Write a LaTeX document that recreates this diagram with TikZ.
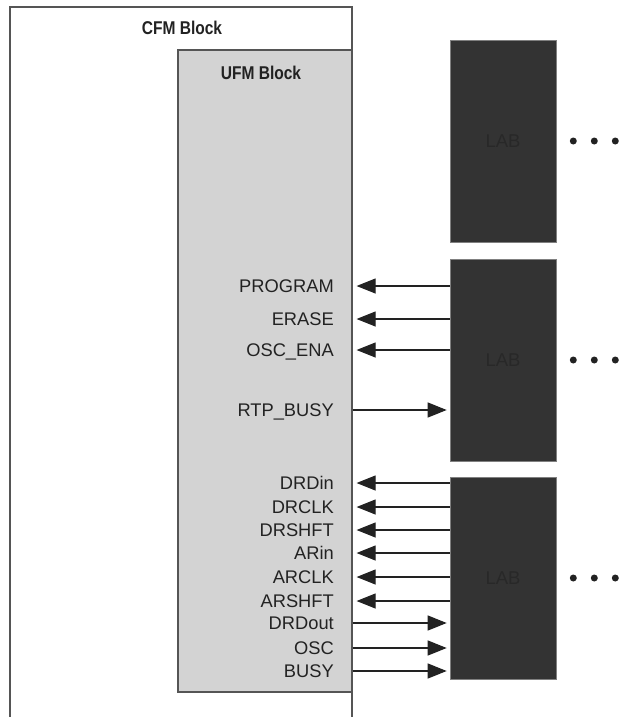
\documentclass[tikz,border=0pt]{standalone}
\usepackage{fontspec}
\setmainfont{Liberation Sans}
\newfontfamily\blockfont[FakeStretch=0.84]{Liberation Sans}
\usetikzlibrary{arrows.meta}
\definecolor{ufmgray}{RGB}{211,211,211}
\definecolor{labgray}{RGB}{51,51,51}
\definecolor{labtext}{RGB}{40,40,40}
\definecolor{lineblk}{RGB}{34,34,34}
\definecolor{framegray}{RGB}{85,85,85}

\begin{document}
\begin{tikzpicture}[x=1pt,y=-1pt,
  frame/.style={draw=framegray, line width=1.2pt},
  title/.style={font=\blockfont\bfseries\fontsize{18.5}{18.5}\selectfont, text=lineblk, inner sep=0pt},
  sig/.style={anchor=east, font=\fontsize{18.3}{18.3}\selectfont, text=lineblk, inner sep=0pt, text height=13pt, text depth=0pt},
  labbox/.style={draw=gray, line width=0.6pt, fill=labgray, minimum width=106pt, minimum height=202pt,
                 font=\fontsize{18.5}{18.5}\selectfont, text=labtext},
  sigin/.style={draw=lineblk, line width=1.1pt, {Triangle[length=19pt,width=15pt]}-, shorten <=4pt},
  sigout/.style={draw=lineblk, line width=1.1pt, -{Triangle[length=19pt,width=15pt]}, shorten >=3pt}]
\useasboundingbox (0,0) rectangle (621,717);
% CFM frame, open at the bottom
\draw[frame] (10,717) |- (352,7) -- (352,717);
\node[title] (cfm) at (182,28) {CFM Block};
% UFM block
\node[frame, fill=ufmgray, minimum width=174pt, minimum height=642pt, inner sep=0pt] (ufm) at (265,371) {};
\node[title] (ufmlbl) at (261,73) {UFM Block};
% LAB column
\foreach \y [count=\k] in {141,360,578} {
  \node[labbox] (lab\k) at (503,\y) {LAB};
  \fill[lineblk] (lab\k.east) ++(17,0) circle (3.5) ++(21,0) circle (3.5) ++(21,0) circle (3.5);
}
% middle LAB signals
\foreach \txt/\y [count=\i] in {PROGRAM/286, ERASE/319, OSC\_ENA/350} {
  \node[sig] (m\i) at (334,\y) {\txt};
  \draw[sigin] (ufm.east |- m\i) -- (lab2.west |- m\i);
}
\node[sig] (rtp) at (334,410) {RTP\_BUSY};
\draw[sigout] (ufm.east |- rtp) -- (lab2.west |- rtp);
% lower LAB signals
\foreach \txt/\y [count=\i] in {DRDin/483, DRCLK/507, DRSHFT/530, ARin/553, ARCLK/577, ARSHFT/601} {
  \node[sig] (r\i) at (334,\y) {\txt};
  \draw[sigin] (ufm.east |- r\i) -- (lab3.west |- r\i);
}
\foreach \txt/\y [count=\i] in {DRDout/623, OSC/648, BUSY/671} {
  \node[sig] (o\i) at (334,\y) {\txt};
  \draw[sigout] (ufm.east |- o\i) -- (lab3.west |- o\i);
}
\end{tikzpicture}
\end{document}
